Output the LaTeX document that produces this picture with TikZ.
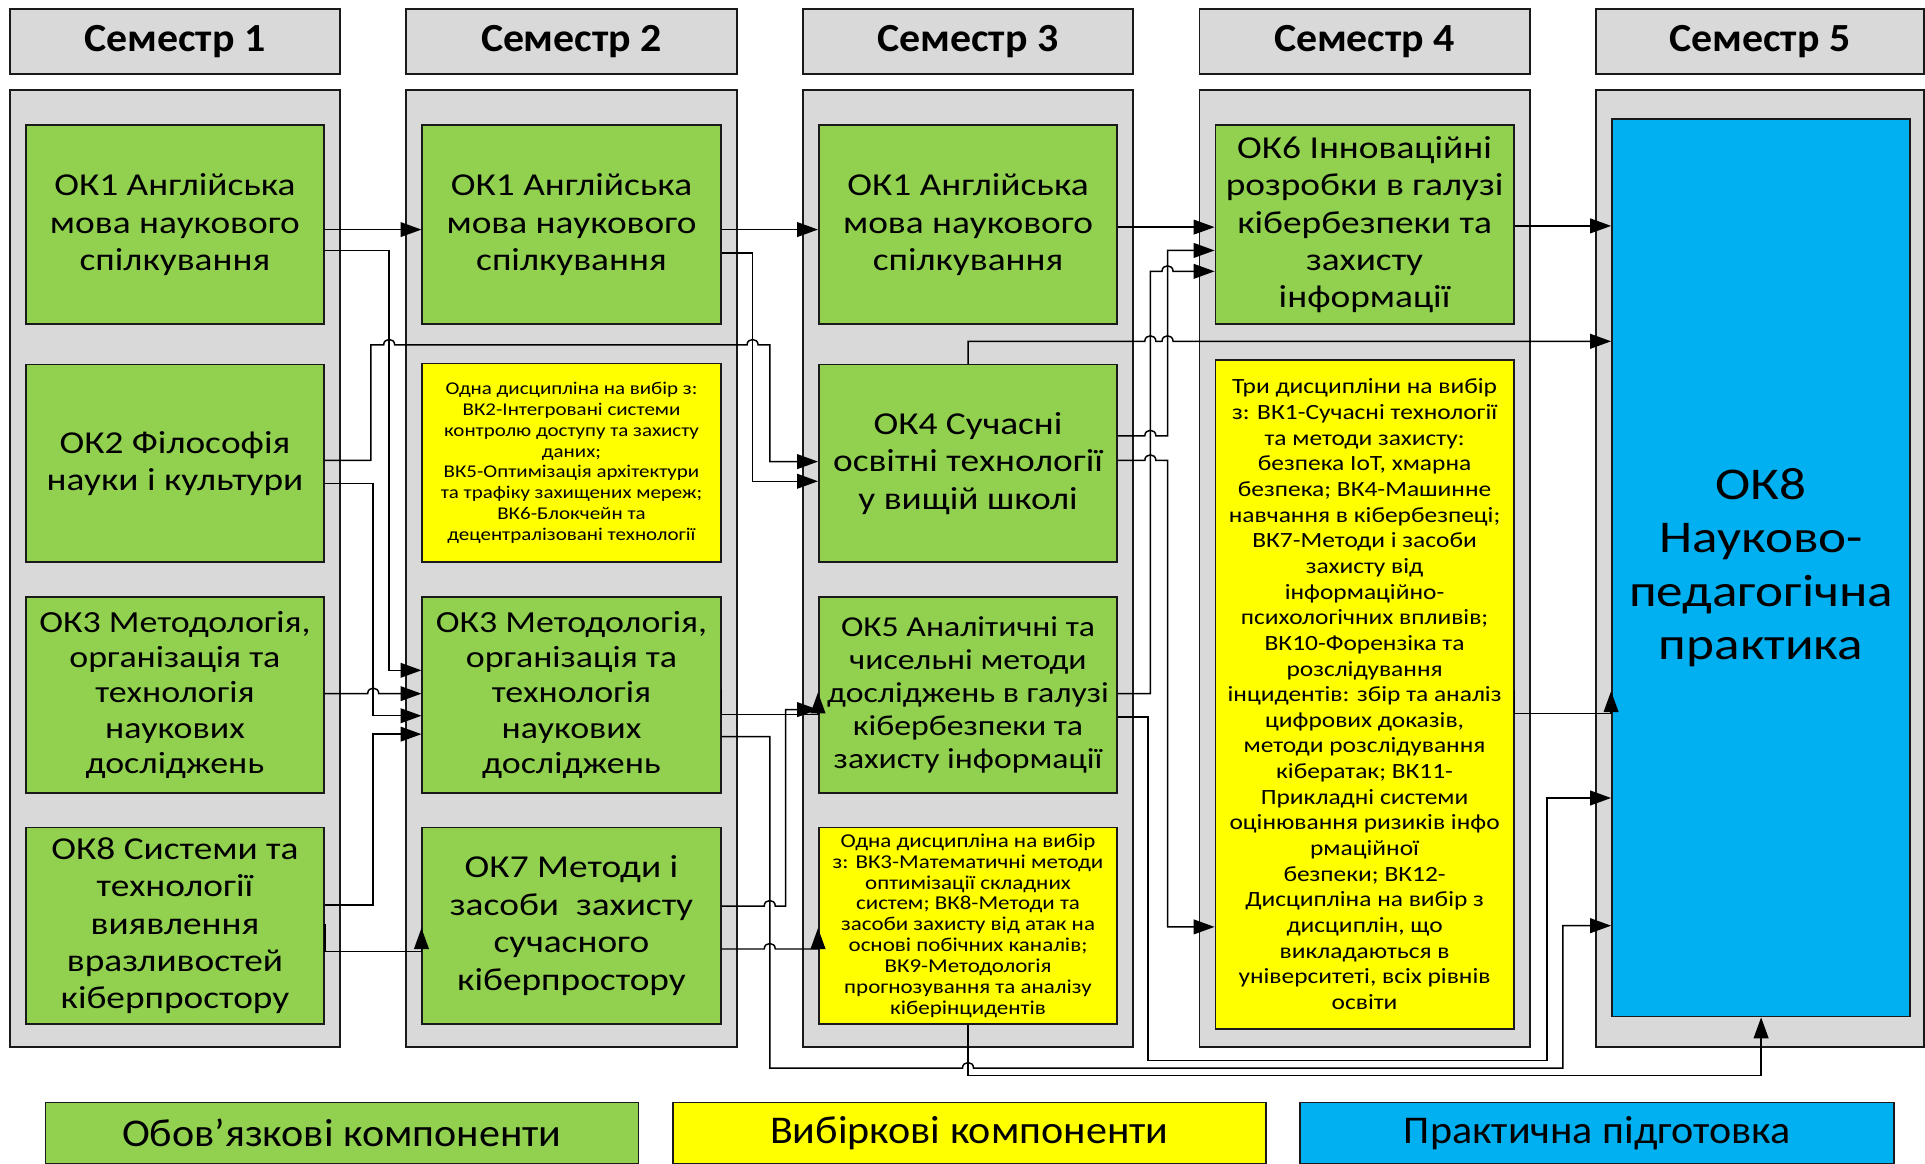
\documentclass[tikz,border=0pt]{standalone}
\usepackage{fontspec}
\setmainfont{Carlito}[FakeStretch=1.17]
\newfontfamily\headfont{Carlito}[FakeStretch=1.05]
\newfontfamily\legfont{Carlito}[FakeStretch=1.07]
\usetikzlibrary{arrows.meta}
\definecolor{gfill}{HTML}{92D050}
\definecolor{yfill}{HTML}{FFFF00}
\definecolor{bfill}{HTML}{00B0F0}
\definecolor{pfill}{HTML}{D9D9D9}
\definecolor{edge}{HTML}{1A1A1A}
\begin{document}
\begin{tikzpicture}[x=1pt,y=-1pt,
  panel/.style={draw=edge, fill=pfill, line width=1.5pt, inner sep=0pt},
  head/.style={panel, minimum width=269pt, minimum height=53pt, font=\headfont\fontsize{32.5}{36}\selectfont\bfseries},
  col/.style={panel, minimum width=269pt, minimum height=780pt},
  bx/.style={draw=edge, line width=1.4pt, minimum width=243pt, inner sep=0pt, align=center},
  gbox/.style={bx, fill=gfill, font=\fontsize{26}{30.5}\selectfont},
  gboxs/.style={bx, fill=gfill, font=\fontsize{25}{28.75}\selectfont},
  ybox/.style={bx, fill=yfill, font=\fontsize{14.6}{17}\selectfont},
  legend/.style={draw=edge, line width=1.4pt, minimum width=483pt, minimum height=50pt, inner sep=0pt, font=\legfont\fontsize{32}{36}\selectfont},
  conn/.style={draw=black, line width=1.2pt},
  arr/.style={conn, -{Triangle[length=17pt,width=12pt]}}
]
\useasboundingbox (0,0) rectangle (1568,948);
% headers
\node[head] (h1) at (142.5,33.5) {Семестр 1};
\node[head] (h2) at (465.5,33.5) {Семестр 2};
\node[head] (h3) at (788.5,33.5) {Семестр 3};
\node[head] (h4) at (1111.5,33.5) {Семестр 4};
\node[head, minimum width=267pt] (h5) at (1433.5,33.5) {Семестр 5};
% panels
\node[col] (p1) at (142.5,463) {};
\node[col] (p2) at (465.5,463) {};
\node[col] (p3) at (788.5,463) {};
\node[col] (p4) at (1111.5,463) {};
\node[col, minimum width=267pt] (p5) at (1433.5,463) {};
% semester 1
\node[gbox, minimum height=162pt] (a1) at (142.5,183) {ОК1 Англійська\\мова наукового\\спілкування};
\node[gbox, minimum height=161pt] (a2) at (142.5,377.5) {ОК2 Філософія\\науки і культури};
\node[gboxs, minimum height=160pt] (a3) at (142.5,566) {ОК3 Методологія,\\організація та\\технологія\\наукових\\досліджень};
\node[gbox, minimum height=160pt] (a4) at (142.5,754) {ОК8 Системи та\\технології\\виявлення\\вразливостей\\кіберпростору};
% semester 2
\node[gbox, minimum height=162pt] (b1) at (465.5,183) {ОК1 Англійська\\мова наукового\\спілкування};
\node[ybox, minimum height=162pt] (b2) at (465.5,377) {Одна дисципліна на вибір з:\\ВК2-Інтегровані системи\\контролю доступу та захисту\\даних;\\ВК5-Оптимізація архітектури\\та трафіку захищених мереж;\\ВК6-Блокчейн та\\децентралізовані технології};
\node[gboxs, minimum height=160pt] (b3) at (465.5,566) {ОК3 Методологія,\\організація та\\технологія\\наукових\\досліджень};
\node[gbox, minimum height=160pt] (b4) at (465.5,754) {ОК7 Методи і\\засоби\ \ захисту\\сучасного\\кіберпростору};
% semester 3
\node[gbox, minimum height=162pt] (c1) at (788.5,183) {ОК1 Англійська\\мова наукового\\спілкування};
\node[gbox, minimum height=161pt] (c2) at (788.5,377.5) {ОК4 Сучасні\\освітні технології\\у вищій школі};
\node[bx, fill=gfill, font=\fontsize{23.5}{26.75}\selectfont, minimum height=160pt] (c3) at (788.5,566) {ОК5 Аналітичні та\\чисельні методи\\досліджень в галузі\\кібербезпеки та\\захисту інформації};
\node[ybox, font=\fontsize{16}{17}\selectfont, minimum height=160pt] (c4) at (788.5,754) {Одна дисципліна на вибір\\з: ВК3-Математичні методи\\оптимізації складних\\систем; ВК8-Методи та\\засоби захисту від атак на\\основі побічних каналів;\\ВК9-Методологія\\прогнозування та аналізу\\кіберінцидентів};
% semester 4
\node[gbox, minimum height=162pt] (d1) at (1111.5,183) {ОК6 Інноваційні\\розробки в галузі\\кібербезпеки та\\захисту\\інформації};
\node[bx, fill=yfill, font=\fontsize{17.7}{20.9}\selectfont, minimum height=545pt] (d2) at (1111.5,565.5) {Три дисципліни на вибір\\з: ВК1-Сучасні технології\\та методи захисту:\\безпека IoT, хмарна\\безпека; ВК4-Машинне\\навчання в кібербезпеці;\\ВК7-Методи і засоби\\захисту від\\інформаційно-\\психологічних впливів;\\ВК10-Форензіка та\\розслідування\\інцидентів: збір та аналіз\\цифрових доказів,\\методи розслідування\\кібератак; ВК11-\\Прикладні системи\\оцінювання ризиків інфо\\рмаційної\\безпеки; ВК12-\\Дисципліна на вибір з\\дисциплін, що\\викладаються в\\університеті, всіх рівнів\\освіти};
% semester 5
\node[bx, fill=bfill, font=\fontsize{37}{43.5}\selectfont, minimum height=731pt] (e1) at (1434.5,462.5) {ОК8\\Науково-\\педагогічна\\практика};
% legend
\node[legend, fill=gfill] (l1) at (278.5,923) {Обов’язкові компоненти};
\node[legend, fill=yfill] (l2) at (789.5,923) {Вибіркові компоненти};
\node[legend, fill=bfill, minimum width=484pt] (l3) at (1301,923) {Практична підготовка};
% connectors semester 1 -> 2
\draw[arr] (a1.east |- 0,187) -- (b1.west |- 0,187);
\draw[arr] (a1.east |- 0,204) -- (317,204) -- (317,546) -- (b3.west |- 0,546);
\draw[arr] (a2.east |- 0,375) -- (302,375) -- (302,281) -- (312.5,281) .. controls (312.5,275) and (321.5,275) .. (321.5,281) -- (608.5,281) .. controls (608.5,275) and (617.5,275) .. (617.5,281) -- (627,281) -- (627,376) -- (c2.west |- 0,376);
\draw[arr] (a2.east |- 0,394) -- (304,394) -- (304,583) -- (b3.west |- 0,583);
\draw[arr] (a3.east |- 0,565) -- (299.5,565) .. controls (299.5,559) and (308.5,559) .. (308.5,565) -- (b3.west |- 0,565);
\draw[arr] (a4.east |- 0,737) -- (304,737) -- (304,598) -- (b3.west |- 0,598);
\draw[arr] (a4.east |- 0,753) -- (a4.east |- 0,775) -- (b4.west |- 0,775) -- (b4.west |- 0,756);
% semester 2 -> 3
\draw[arr] (b1.east |- 0,187) -- (c1.west |- 0,187);
\draw[arr] (b1.east |- 0,206) -- (613,206) -- (613,392) -- (c2.west |- 0,392);
\draw[arr] (b3.east |- 0,561) -- (b3.east |- 0,582) -- (c3.west |- 0,582) -- (c3.west |- 0,564);
\draw[arr] (b3.east |- 0,600) -- (627,600) -- (627,870) -- (784,870) .. controls (784,864) and (793,864) .. (793,870) -- (1273,870) -- (1273,754) -- (e1.west |- 0,754);
\draw[arr] (b4.east |- 0,738) -- (622.5,738) .. controls (622.5,732) and (631.5,732) .. (631.5,738) -- (640,738) -- (640,578) -- (c3.west |- 0,578);
\draw[arr] (b4.east |- 0,773) -- (622.5,773) .. controls (622.5,767) and (631.5,767) .. (631.5,773) -- (c4.west |- 0,773) -- (c4.west |- 0,756);
% semester 3 -> 4 / 5
\draw[arr] (c1.east |- 0,185) -- (d1.west |- 0,185);
\draw[arr] (c2.north) -- (c2.north |- 0,278) -- (932.5,278) .. controls (932.5,272) and (941.5,272) .. (941.5,278) -- (946.5,278) .. controls (946.5,272) and (955.5,272) .. (955.5,278) -- (e1.west |- 0,278);
\draw[arr] (c2.east |- 0,355) -- (932.5,355) .. controls (932.5,349) and (941.5,349) .. (941.5,355) -- (951,355) -- (951,204) -- (d1.west |- 0,204);
\draw[arr] (c2.east |- 0,375) -- (932.5,375) .. controls (932.5,369) and (941.5,369) .. (941.5,375) -- (951,375) -- (951,755) -- (d2.west |- 0,755);
\draw[arr] (c3.east |- 0,565) -- (937,565) -- (937,221) -- (946.5,221) .. controls (946.5,215) and (955.5,215) .. (955.5,221) -- (d1.west |- 0,221);
\draw[arr] (c3.east |- 0,584) -- (935,584) -- (935,864) -- (1260,864) -- (1260,650) -- (e1.west |- 0,650);
\draw[arr] (c4.south) -- (c4.south |- 0,876) -- (e1.south |- 0,876) -- (e1.south);
% semester 4 -> 5
\draw[arr] (d1.east |- 0,184) -- (e1.west |- 0,184);
\draw[arr] (d2.east |- 0,562) -- (d2.east |- 0,581) -- (e1.west |- 0,581) -- (e1.west |- 0,563);
\end{tikzpicture}
\end{document}
